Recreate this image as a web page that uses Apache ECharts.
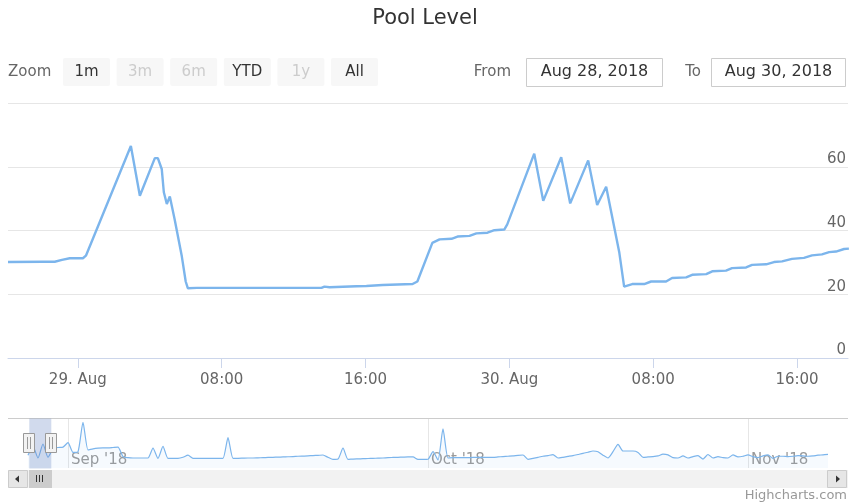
<!DOCTYPE html>
<html>
<head>
    <meta charset="utf-8">
    <title>Pool Level</title>
    <script src="https://cdn.jsdelivr.net/npm/echarts@6/dist/echarts.min.js"></script>
    <style>
        html, body { margin: 0; padding: 0; background: #fff; }
        #chart { width: 850px; height: 504px; }
    </style>
</head>
<body>
<div id="chart"></div>
<script type="text/javascript">

    // main window data (pool level readings)
    var mainTimes = [
        '2018-08-28 20:07', '2018-08-28 22:03', '2018-08-28 22:43', '2018-08-28 23:07', '2018-08-28 23:33',
        '2018-08-29 00:17', '2018-08-29 00:27', '2018-08-29 02:57', '2018-08-29 03:27', '2018-08-29 04:17',
        '2018-08-29 04:27', '2018-08-29 04:40', '2018-08-29 04:47', '2018-08-29 04:57', '2018-08-29 05:07',
        '2018-08-29 05:23', '2018-08-29 05:47', '2018-08-29 06:00', '2018-08-29 06:07', '2018-08-29 06:37',
        '2018-08-29 13:33', '2018-08-29 13:43', '2018-08-29 14:00', '2018-08-29 15:30', '2018-08-29 16:03',
        '2018-08-29 16:57', '2018-08-29 18:37', '2018-08-29 18:53', '2018-08-29 19:43', '2018-08-29 20:07',
        '2018-08-29 20:47', '2018-08-29 21:07', '2018-08-29 21:47', '2018-08-29 22:10', '2018-08-29 22:47',
        '2018-08-29 23:10', '2018-08-29 23:43', '2018-08-29 23:53', '2018-08-30 01:23', '2018-08-30 01:53',
        '2018-08-30 02:53', '2018-08-30 03:23', '2018-08-30 04:23', '2018-08-30 04:53', '2018-08-30 05:23',
        '2018-08-30 06:07', '2018-08-30 06:23', '2018-08-30 06:50', '2018-08-30 07:30', '2018-08-30 07:53',
        '2018-08-30 08:43', '2018-08-30 09:03', '2018-08-30 09:50', '2018-08-30 10:10', '2018-08-30 10:57',
        '2018-08-30 11:17', '2018-08-30 12:03', '2018-08-30 12:23', '2018-08-30 13:10', '2018-08-30 13:30',
        '2018-08-30 14:17', '2018-08-30 14:43', '2018-08-30 15:10', '2018-08-30 15:43', '2018-08-30 16:23',
        '2018-08-30 16:50', '2018-08-30 17:23', '2018-08-30 17:47', '2018-08-30 18:10', '2018-08-30 18:37',
        '2018-08-30 18:53'
    ];
    var mainValues = [
        30.1, 30.2, 30.2, 30.8, 31.3,
        31.3, 32.1, 66.5, 50.9, 62.7,
        62.7, 59.3, 52.0, 48.3, 50.7,
        43.5, 31.9, 24.0, 21.9, 22.0,
        22.0, 22.4, 22.2, 22.5, 22.6,
        22.9, 23.2, 24.0, 36.1, 37.2,
        37.4, 38.1, 38.3, 39.1, 39.3,
        40.1, 40.3, 41.9, 64.1, 49.3,
        63.0, 48.5, 62.0, 48.0, 53.7,
        33.0, 22.4, 23.2, 23.2, 24.0,
        24.0, 25.1, 25.3, 26.1, 26.3,
        27.2, 27.4, 28.2, 28.4, 29.2,
        29.4, 30.1, 30.3, 31.1, 31.4,
        32.2, 32.5, 33.2, 33.4, 34.2,
        34.3
    ];
    var viewFrom = '2018-08-28 20:07';
    var viewTo = '2018-08-30 18:50';

    // x axis ticks of the main chart
    var tickTimes = ['2018-08-29 00:00', '2018-08-29 08:00', '2018-08-29 16:00',
        '2018-08-30 00:00', '2018-08-30 08:00', '2018-08-30 16:00'];
    var tickLabels = ['29. Aug', '08:00', '16:00', '30. Aug', '08:00', '16:00'];

    // navigator overview (ordinal points, Aug 28 .. Nov 8)
    var navValues = [
        30, 55, 22, 62, 24, 48, 52, 53, 66, 38,
        40, 124, 45, 48, 50, 51, 51, 52, 53, 26,
        23, 22, 22, 22, 22, 50, 21, 55, 21, 21,
        21, 24, 30, 21, 21, 21, 21, 21, 21, 21,
        80, 21, 21, 21.5, 22, 22, 22.5, 23, 23.5, 24,
        24.5, 25, 25.5, 26, 27, 27.5, 28, 29, 29.5, 30.5,
        24, 18, 19, 50, 18, 19, 19.5, 20, 20.5, 21,
        21.5, 22, 23, 23.5, 24, 24.5, 25, 25, 18, 18,
        18.5, 40, 16, 105, 22, 23, 23, 23, 23, 23.5,
        23.5, 23.5, 24, 24, 25, 26, 27, 28, 29.5, 30.5,
        18, 21, 24, 27, 29, 31.5, 22, 24, 26.5, 29,
        32, 35, 38.5, 42, 40, 30, 22, 40, 61, 42,
        42, 42, 38, 24, 25, 26, 28, 33, 31, 23,
        22, 28, 22, 26, 28.5, 19, 32, 22, 26, 23,
        22, 31, 25, 27, 31, 26, 23, 28, 31, 21,
        27, 27, 26, 27, 28.5, 28, 27, 28, 30, 31,
        32.5
    ];
    var navMonthIdx = [8, 80, 144];
    var navMonthLabels = ["Sep '18", "Oct '18", "Nov '18"];

    // range selector
    var rangeButtons = ['1m', '3m', '6m', 'YTD', '1y', 'All'];
    var rangeEnabled = [true, false, false, true, false, true];
    var fromText = 'Aug 28, 2018';
    var toText = 'Aug 30, 2018';

    var FONT = '"DejaVu Sans", sans-serif';
    var LINE = '#7cb5ec';

    function toStamp(s) {
        var p = s.split(/[- :]/);
        return Date.UTC(+p[0], +p[1] - 1, +p[2], +p[3], +p[4]);
    }

    var mainData = [];
    for (var i = 0; i < mainTimes.length; i++) {
        mainData.push([toStamp(mainTimes[i]), mainValues[i]]);
    }
    var navCats = [];
    for (var i = 0; i < navValues.length; i++) {
        navCats.push(String(i));
    }
    var tickStamps = tickTimes.map(toStamp);

    function isMonthIdx(idx) {
        return navMonthIdx.indexOf(idx) >= 0;
    }

    // range selector + navigator chrome
    var graphics = [];
    graphics.push({type: 'text', x: 8, y: 72, style: {text: 'Zoom', font: '15px ' + FONT, fill: '#666', verticalAlign: 'middle'}});
    for (var i = 0; i < rangeButtons.length; i++) {
        var bx = 63 + i * 53.6;
        graphics.push({type: 'rect', shape: {x: bx, y: 58, width: 47, height: 28, r: 2},
            style: {fill: '#f7f7f7'}});
        graphics.push({type: 'text', x: bx + 23.5, y: 72, style: {
            text: rangeButtons[i], font: '15px ' + FONT, align: 'center', verticalAlign: 'middle',
            fill: rangeEnabled[i] ? '#333' : '#cccccc'}});
    }
    graphics.push({type: 'text', x: 511, y: 72, style: {text: 'From', font: '15px ' + FONT, fill: '#666',
        align: 'right', verticalAlign: 'middle'}});
    graphics.push({type: 'rect', shape: {x: 526.5, y: 58.5, width: 136, height: 28},
        style: {fill: '#fff', stroke: '#cccccc', lineWidth: 1}});
    graphics.push({type: 'text', x: 594.5, y: 72, style: {text: fromText, font: '16px ' + FONT, fill: '#333',
        align: 'center', verticalAlign: 'middle'}});
    graphics.push({type: 'text', x: 701, y: 72, style: {text: 'To', font: '15px ' + FONT, fill: '#666',
        align: 'right', verticalAlign: 'middle'}});
    graphics.push({type: 'rect', shape: {x: 711.5, y: 58.5, width: 134, height: 28},
        style: {fill: '#fff', stroke: '#cccccc', lineWidth: 1}});
    graphics.push({type: 'text', x: 778.5, y: 72, style: {text: toText, font: '16px ' + FONT, fill: '#333',
        align: 'center', verticalAlign: 'middle'}});

    // navigator outline, mask, handles
    graphics.push({type: 'line', shape: {x1: 8, y1: 418.5, x2: 848, y2: 418.5}, style: {stroke: '#cccccc', lineWidth: 1}, z: 100});
    graphics.push({type: 'rect', shape: {x: 29.3, y: 418.5, width: 22, height: 50},
        style: {fill: 'rgba(102,133,194,0.3)'}, z: 100});
    [29.3, 51.3].forEach(function (cx) {
        var c = Math.round(cx);
        graphics.push({type: 'rect', shape: {x: c - 5.5, y: 433.5, width: 11, height: 19},
            style: {fill: '#f2f2f2', stroke: '#999999', lineWidth: 1}, z: 101});
        graphics.push({type: 'line', shape: {x1: c - 1.5, y1: 437, x2: c - 1.5, y2: 449},
            style: {stroke: '#999999', lineWidth: 1}, z: 102});
        graphics.push({type: 'line', shape: {x1: c + 1.5, y1: 437, x2: c + 1.5, y2: 449},
            style: {stroke: '#999999', lineWidth: 1}, z: 102});
    });

    // scrollbar
    graphics.push({type: 'rect', shape: {x: 8, y: 470, width: 840, height: 18}, style: {fill: '#f2f2f2'}, z: 100});
    graphics.push({type: 'rect', shape: {x: 8.5, y: 470.5, width: 19, height: 17},
        style: {fill: '#e6e6e6', stroke: '#cccccc', lineWidth: 1}, z: 101});
    graphics.push({type: 'polygon', shape: {points: [[15, 479], [19, 475.5], [19, 482.5]]}, style: {fill: '#333'}, z: 102});
    graphics.push({type: 'rect', shape: {x: 827.5, y: 470.5, width: 19, height: 17},
        style: {fill: '#e6e6e6', stroke: '#cccccc', lineWidth: 1}, z: 101});
    graphics.push({type: 'polygon', shape: {points: [[840, 479], [836, 475.5], [836, 482.5]]}, style: {fill: '#333'}, z: 102});
    graphics.push({type: 'rect', shape: {x: 29, y: 470, width: 23, height: 18}, style: {fill: '#cccccc'}, z: 101});
    [36.5, 39.5, 42.5].forEach(function (gx) {
        graphics.push({type: 'line', shape: {x1: gx, y1: 475, x2: gx, y2: 482},
            style: {stroke: '#333', lineWidth: 1}, z: 102});
    });

    graphics.push({type: 'text', x: 847, y: 496, style: {text: 'Highcharts.com', font: '13px ' + FONT, fill: '#999',
        align: 'right', verticalAlign: 'middle'}});

    var chart = echarts.init(document.getElementById('chart'));
    var option = {
        animation: false,
        title: {
            text: 'Pool Level',
            left: 'center',
            top: 3,
            textStyle: {fontFamily: FONT, fontSize: 21, fontWeight: 'normal', color: '#333'}
        },
        grid: [
            {left: 8, right: 2, top: 103, height: 255},
            {left: 28, right: 22, top: 418, height: 50}
        ],
        xAxis: [{
            type: 'value',
            gridIndex: 0,
            min: toStamp(viewFrom),
            max: toStamp(viewTo),
            axisLine: {lineStyle: {color: '#ccd6eb', width: 1}},
            axisTick: {show: true, length: 10, customValues: tickStamps, lineStyle: {color: '#ccd6eb'}},
            axisLabel: {
                customValues: tickStamps,
                color: '#666',
                fontFamily: FONT,
                fontSize: 15,
                margin: 15,
                formatter: function (val) {
                    var k = tickStamps.indexOf(+val);
                    return k >= 0 ? tickLabels[k] : '';
                }
            },
            splitLine: {show: false}
        }, {
            type: 'category',
            gridIndex: 1,
            data: navCats,
            boundaryGap: false,
            axisLine: {show: false},
            axisTick: {show: false},
            splitLine: {
                show: true,
                interval: function (idx) { return isMonthIdx(idx); },
                lineStyle: {color: '#e6e6e6', width: 1}
            },
            axisLabel: {
                inside: true,
                interval: function (idx) { return isMonthIdx(idx); },
                formatter: function (v, idx) {
                    var k = navMonthIdx.indexOf(idx);
                    return k >= 0 ? navMonthLabels[k] : '';
                },
                align: 'left',
                padding: [0, 0, 0, 3],
                margin: 0,
                color: '#999',
                fontFamily: FONT,
                fontSize: 15
            }
        }],
        yAxis: [{
            type: 'value',
            gridIndex: 0,
            position: 'right',
            min: 0,
            max: 80,
            interval: 20,
            axisLine: {show: false},
            axisTick: {show: false},
            axisLabel: {
                inside: true,
                showMaxLabel: false,
                verticalAlign: 'bottom',
                margin: 2,
                lineHeight: 15,
                color: '#666',
                fontFamily: FONT,
                fontSize: 15
            },
            splitLine: {lineStyle: {color: '#e6e6e6', width: 1}}
        }, {
            type: 'value',
            gridIndex: 1,
            min: -6.6,
            max: 136.3,
            show: false
        }],
        series: [{
            type: 'line',
            xAxisIndex: 0,
            yAxisIndex: 0,
            data: mainData,
            showSymbol: false,
            lineStyle: {color: LINE, width: 2.4},
            itemStyle: {color: LINE}
        }, {
            type: 'line',
            xAxisIndex: 1,
            yAxisIndex: 1,
            data: navValues,
            showSymbol: false,
            smooth: 0.2,
            lineStyle: {color: LINE, width: 1.2},
            itemStyle: {color: LINE},
            areaStyle: {color: 'rgba(124,181,236,0.1)', origin: 'start'}
        }],
        graphic: graphics
    };
    chart.setOption(option);
</script>
</body>
</html>
